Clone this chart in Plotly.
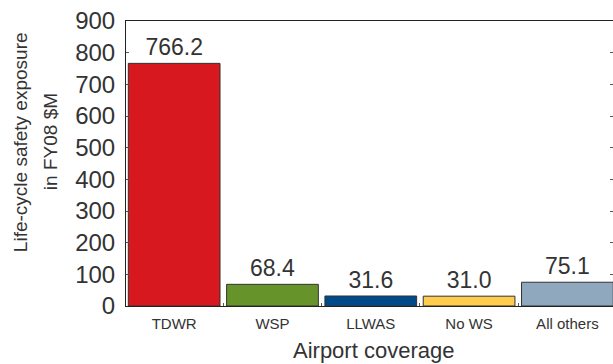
import plotly.graph_objects as go

# Life-cycle safety exposure by airport wind-shear coverage
categories = ["TDWR", "WSP", "LLWAS", "No WS", "All others"]
exposure = [766.2, 68.4, 31.6, 31.0, 75.1]
bar_colors = ["#D7191F", "#66942A", "#004A8A", "#FFCC4D", "#8FA8BD"]
y_ticks = [0, 100, 200, 300, 400, 500, 600, 700, 800, 900]

FONT = "Liberation Sans, Arial, Helvetica, sans-serif"
INK = "#333333"

fig = go.Figure()
fig.add_trace(go.Bar(
    x=categories,
    y=exposure,
    marker=dict(color=bar_colors, line=dict(color="#333333", width=1)),
    text=[f"{v:.1f}" for v in exposure],
    textposition="outside",
    textfont=dict(family=FONT, size=23, color=INK),
    cliponaxis=False,
    showlegend=False,
))
# invisible twin axis that supplies the small inward ticks on the right edge
fig.add_trace(go.Scatter(x=[categories[0]], y=[None], yaxis="y2",
                         showlegend=False, hoverinfo="skip"))

fig.update_layout(
    width=613, height=364,
    margin=dict(l=126, r=0, t=20.5, b=57.5),
    paper_bgcolor="white", plot_bgcolor="white",
    bargap=0.067,
    font=dict(family=FONT, color=INK),
    xaxis=dict(
        range=[-0.49, 4.464],
        showline=True, linecolor="#222222", linewidth=1, mirror=True,
        ticks="inside", tickson="boundaries", ticklen=3, tickcolor="#555555",
        tickfont=dict(size=15, color=INK), ticklabelstandoff=4,
        showgrid=False, zeroline=False, fixedrange=True,
    ),
    yaxis=dict(
        range=[0, 900], tickvals=y_ticks,
        showline=True, linecolor="#222222", linewidth=1,
        ticks="inside", ticklen=3, tickcolor="#555555",
        tickfont=dict(size=24, color=INK), ticklabelstandoff=5,
        showgrid=False, zeroline=False,
    ),
    yaxis2=dict(
        range=[0, 900], tickvals=y_ticks, overlaying="y", side="right",
        showline=False, ticks="inside", ticklen=3, tickcolor="#555555",
        showticklabels=False, showgrid=False, zeroline=False,
    ),
    annotations=[
        dict(text="Life-cycle safety exposure", xref="paper", yref="paper",
             x=0, y=0.575, xshift=-106, xanchor="center", yanchor="middle",
             textangle=-90, showarrow=False,
             font=dict(family=FONT, size=19, color=INK)),
        dict(text="in FY08 $M", xref="paper", yref="paper",
             x=0, y=0.575, xshift=-76, xanchor="center", yanchor="middle",
             textangle=-90, showarrow=False,
             font=dict(family=FONT, size=19, color=INK)),
        dict(text="Airport coverage", xref="paper", yref="paper",
             x=0.508, y=-0.156, xanchor="center", yanchor="middle",
             showarrow=False,
             font=dict(family=FONT, size=22, color=INK)),
    ],
)

fig.write_html("out.html")
